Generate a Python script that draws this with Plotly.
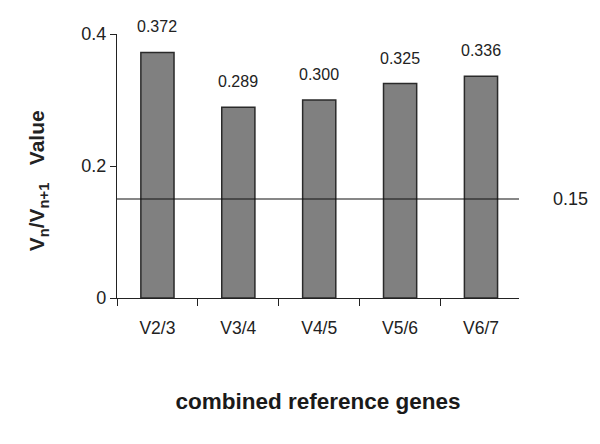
import plotly.graph_objects as go

categories = ["V2/3", "V3/4", "V4/5", "V5/6", "V6/7"]
values = [0.372, 0.289, 0.300, 0.325, 0.336]
value_labels = ["0.372", "0.289", "0.300", "0.325", "0.336"]
threshold = 0.15
y_tickvals = [0, 0.2, 0.4]
y_ticktext = ["0", "0.2", "0.4"]

FONT = "Liberation Sans, Arial, sans-serif"

fig = go.Figure()
fig.add_trace(go.Bar(
    x=categories, y=values, width=0.41,
    marker=dict(color="#808080", line=dict(color="#2a2a2a", width=1.5)),
    hoverinfo="skip",
))

for c, v, t in zip(categories, values, value_labels):
    fig.add_annotation(x=c, y=v, text=t, showarrow=False, yanchor="bottom",
                       yshift=15, font=dict(family=FONT, size=16, color="#222"))

fig.add_shape(type="line", xref="paper", yref="y", x0=0, x1=1,
              y0=threshold, y1=threshold, line=dict(color="#111", width=1.2))
fig.add_annotation(xref="paper", yref="y", x=1.0, y=threshold, xanchor="left",
                   xshift=32, text=f"{threshold:.2f}", showarrow=False,
                   font=dict(family=FONT, size=18, color="#222"))

# y-axis title (placed as annotation to match vertical offset)
fig.add_annotation(xref="paper", yref="paper", x=-0.196, y=0.443,
                   xanchor="center", yanchor="middle", textangle=-90,
                   text="<b>V<sub>n</sub>/V<sub>n+1</sub>\u00a0\u00a0\u00a0Value</b>",
                   showarrow=False, font=dict(family=FONT, size=21, color="#222"))

fig.update_layout(
    width=600, height=444,
    margin=dict(l=109, r=89, t=26, b=154),
    paper_bgcolor="white", plot_bgcolor="white",
    showlegend=False,
    font=dict(family=FONT, color="#222"),
    xaxis=dict(
        range=[-0.5, 4.47], showline=True, linecolor="#222", linewidth=1.2,
        ticks="outside", tickson="boundaries", ticklen=7, tickcolor="#222",
        ticklabelstandoff=14,
        tickfont=dict(size=17.5, color="#222"), showgrid=False,
        title=dict(text="<b>combined reference genes</b>", font=dict(size=22.5, color="#1a1a1a"), standoff=56),
    ),
    yaxis=dict(
        range=[0, 0.4], showline=True, linecolor="#222", linewidth=1.2,
        ticks="outside", ticklen=6, tickcolor="#222",
        tickvals=y_tickvals, ticktext=y_ticktext,
        tickfont=dict(size=18, color="#222"), showgrid=False, zeroline=False,
    ),
)

fig.write_html("out.html")
